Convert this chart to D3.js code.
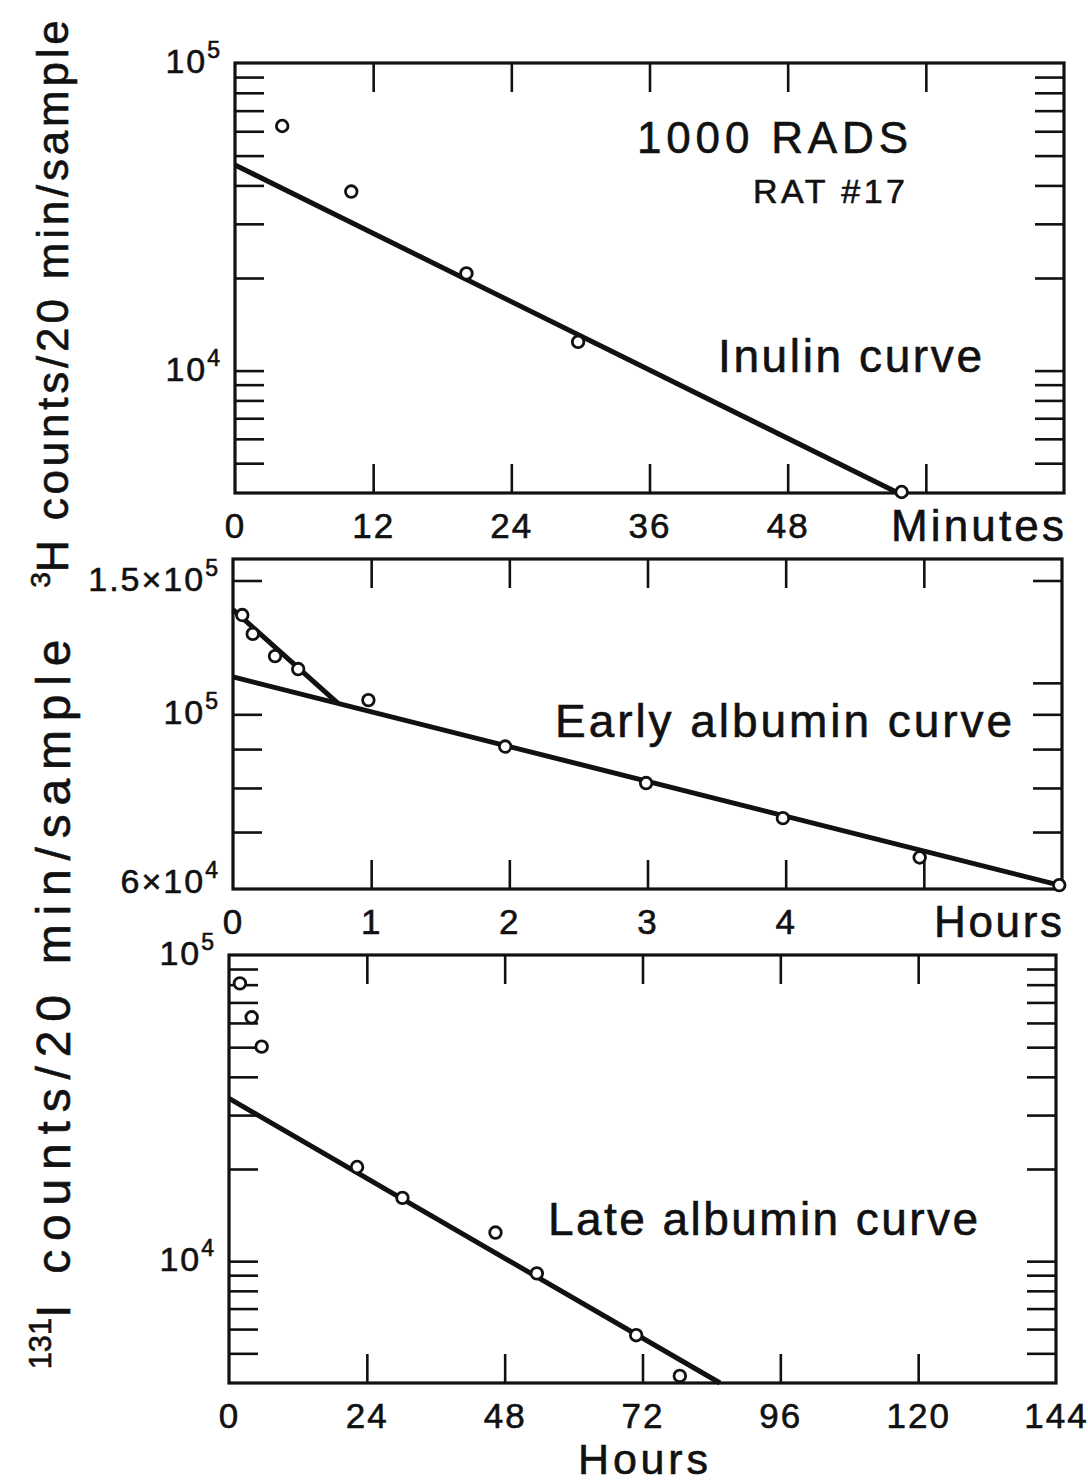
<!DOCTYPE html>
<meta charset="utf-8">
<style>
body { margin: 0; background: #fff; }
svg { display: block; }
text { font-family: "Liberation Sans", Arial, Helvetica, sans-serif; fill: #111; stroke: #111; stroke-width: 0.6; }
</style>
<body>
<svg width="1088" height="1484"></svg>
<script src="https://d3js.org/d3.v7.min.js"></script>
<script>
// values (counts per 20 min sample)
const inulinMinutes = [4.1, 10.1, 20.1, 29.8, 57.9];
const inulinCounts = [62400, 38200, 20700, 12400, 4030];
const inulinFitMinutes = [0, 57.6];
const inulinFitCounts = [46600, 4000];

const earlyHours = [0.067, 0.143, 0.304, 0.472, 0.98, 1.97, 2.99, 3.98, 4.97, 5.98];
const earlyCounts = [135100, 127600, 119300, 114700, 104400, 90700, 81200, 73000, 64800, 59600];
const earlyFastHours = [0, 0.76];
const earlyFastCounts = [137300, 103400];
const earlySlowHours = [0, 5.98];
const earlySlowCounts = [112000, 59600];

const lateHours = [1.9, 3.95, 5.69, 22.3, 30.2, 46.4, 53.6, 70.9, 78.5];
const lateCounts = [80800, 62600, 50200, 20300, 16100, 12400, 9120, 5730, 4220];
const lateFitHours = [0, 85.5];
const lateFitCounts = [34000, 4000];

// ticks and labels
const minuteTicks = [12, 24, 36, 48, 60];
const minuteLabels = [0, 12, 24, 36, 48];
const earlyTicks = [1, 2, 3, 4, 5];
const earlyLabels = [0, 1, 2, 3, 4];
const lateTicks = [24, 48, 72, 96, 120];
const lateLabels = [0, 24, 48, 72, 96, 120, 144];

const decadeTicks = [5000, 6000, 7000, 8000, 9000, 10000, 20000, 30000, 40000, 50000, 60000, 70000, 80000, 90000];
const earlyTicksLeft = [70000, 80000, 90000, 100000, 150000];
const earlyTicksRight = [70000, 80000, 90000, 100000, 110000, 150000];

const decadeLabels = [[100000, "10", "5"], [10000, "10", "4"]];
const earlyYLabels = [[150000, "1.5\u00d710", "5"], [100000, "10", "5"], [60000, "6\u00d710", "4"]];

const zip = (a, b) => a.map((v, i) => [v, b[i]]);

const svg = d3.select("svg");
svg.append("rect").attr("width", 1088).attr("height", 1484).attr("fill", "#fff");

const panels = [
  { left: 235, right: 1064, top: 63, bottom: 493,
    xDomain: [0, 72], yDomain: [4000, 100000],
    xTicks: minuteTicks, xLabels: minuteLabels, yLeft: decadeTicks, yRight: decadeTicks,
    yLabels: decadeLabels, pts: zip(inulinMinutes, inulinCounts),
    fits: [zip(inulinFitMinutes, inulinFitCounts)],
    unit: "Minutes", unitW: 173, unitY: 541,
    curve: "Inulin curve", curveX: 718, curveY: 372, curveW: 264 },
  { left: 233, right: 1062, top: 559, bottom: 889,
    xDomain: [0, 6], yDomain: [58900, 160100],
    xTicks: earlyTicks, xLabels: earlyLabels, yLeft: earlyTicksLeft, yRight: earlyTicksRight,
    yLabels: earlyYLabels, pts: zip(earlyHours, earlyCounts),
    fits: [zip(earlyFastHours, earlyFastCounts), zip(earlySlowHours, earlySlowCounts)],
    unit: "Hours", unitW: 128, unitY: 937,
    curve: "Early albumin curve", curveX: 555, curveY: 737, curveW: 457 },
  { left: 229, right: 1056, top: 955, bottom: 1383,
    xDomain: [0, 144], yDomain: [4000, 100000],
    xTicks: lateTicks, xLabels: lateLabels, yLeft: decadeTicks, yRight: decadeTicks,
    yLabels: decadeLabels, pts: zip(lateHours, lateCounts),
    fits: [zip(lateFitHours, lateFitCounts)],
    unit: null,
    curve: "Late albumin curve", curveX: 548, curveY: 1235, curveW: 430 }
];

const tickLen = 29;

function drawPanel(p) {
  const x = d3.scaleLinear().domain(p.xDomain).range([p.left, p.right]);
  const y = d3.scaleLog().domain(p.yDomain).range([p.bottom, p.top]);
  const g = svg.append("g");

  // inward tick marks on all four sides
  const axes = [
    [d3.axisBottom(x).tickValues(p.xTicks), `translate(0,${p.bottom})`],
    [d3.axisTop(x).tickValues(p.xTicks), `translate(0,${p.top})`],
    [d3.axisLeft(y).tickValues(p.yLeft), `translate(${p.left},0)`],
    [d3.axisRight(y).tickValues(p.yRight), `translate(${p.right},0)`]
  ];
  axes.forEach(([ax, tr]) => {
    const a = g.append("g").attr("transform", tr)
      .call(ax.tickSize(-tickLen).tickFormat(""));
    a.select(".domain").remove();
    a.selectAll("line").attr("stroke", "#111").attr("stroke-width", 2.6);
  });

  // frame
  g.append("rect")
    .attr("x", p.left).attr("y", p.top)
    .attr("width", p.right - p.left).attr("height", p.bottom - p.top)
    .attr("fill", "none").attr("stroke", "#111").attr("stroke-width", 3.2);

  // x tick labels
  const xl = g.append("g").attr("transform", `translate(0,${p.bottom})`)
    .call(d3.axisBottom(x).tickValues(p.xLabels).tickSize(0).tickPadding(20).tickFormat(d3.format("d")));
  xl.select(".domain").remove();
  xl.attr("font-size", 35).attr("font-family", null);
  xl.selectAll("text").attr("fill", "#111").attr("letter-spacing", 2);

  // y labels with superscript exponent
  p.yLabels.forEach(([v, base, exp]) => {
    const t = g.append("text")
      .attr("x", p.left - 13).attr("y", y(v) + 10)
      .attr("text-anchor", "end").attr("font-size", 34).attr("letter-spacing", 2);
    t.append("tspan").text(base);
    t.append("tspan").attr("font-size", 23).attr("dy", -15).text(exp);
  });

  // fitted lines
  const line = d3.line().x(d => x(d[0])).y(d => y(d[1]));
  p.fits.forEach(f => {
    g.append("path").attr("d", line(f))
      .attr("fill", "none").attr("stroke", "#111").attr("stroke-width", 5);
  });

  // points
  g.selectAll("circle.pt").data(p.pts).join("circle")
    .attr("class", "pt")
    .attr("cx", d => x(d[0])).attr("cy", d => y(d[1])).attr("r", 5.8)
    .attr("fill", "#fff").attr("stroke", "#111").attr("stroke-width", 2.8);

  if (p.unit) {
    g.append("text").attr("x", p.right).attr("y", p.unitY)
      .attr("text-anchor", "end").attr("font-size", 44)
      .attr("textLength", p.unitW).attr("lengthAdjust", "spacing")
      .text(p.unit);
  }
  g.append("text").attr("x", p.curveX).attr("y", p.curveY)
    .attr("font-size", 46)
    .attr("textLength", p.curveW).attr("lengthAdjust", "spacing")
    .text(p.curve);
}

panels.forEach(drawPanel);

// bottom axis name
svg.append("text").attr("x", 643).attr("y", 1474)
  .attr("text-anchor", "middle").attr("font-size", 43)
  .attr("textLength", 130).attr("lengthAdjust", "spacing")
  .text("Hours");

// annotation in the inulin panel
svg.append("text").attr("x", 637).attr("y", 153).attr("font-size", 44)
  .attr("textLength", 271).attr("lengthAdjust", "spacing").text("1000 RADS");
svg.append("text").attr("x", 753).attr("y", 203).attr("font-size", 34)
  .attr("textLength", 152).attr("lengthAdjust", "spacing").text("RAT #17");

// rotated y titles
function yTitle(cx, cy, sup, rest, size, spacing) {
  const t = svg.append("text")
    .attr("transform", `translate(${cx},${cy}) rotate(-90)`)
    .attr("text-anchor", "middle").attr("font-size", size);
  t.append("tspan").attr("font-size", size * 0.64).attr("dy", -size * 0.4)
    .attr("letter-spacing", 0).text(sup);
  t.append("tspan").attr("dy", size * 0.4).attr("letter-spacing", spacing).text(rest);
}
yTitle(68, 302, "3", "H counts/20 min/sample", 44, 3.8);
yTitle(70, 1000, "131", "I counts/20 min/sample", 48, 8.8);
</script>
</body>
